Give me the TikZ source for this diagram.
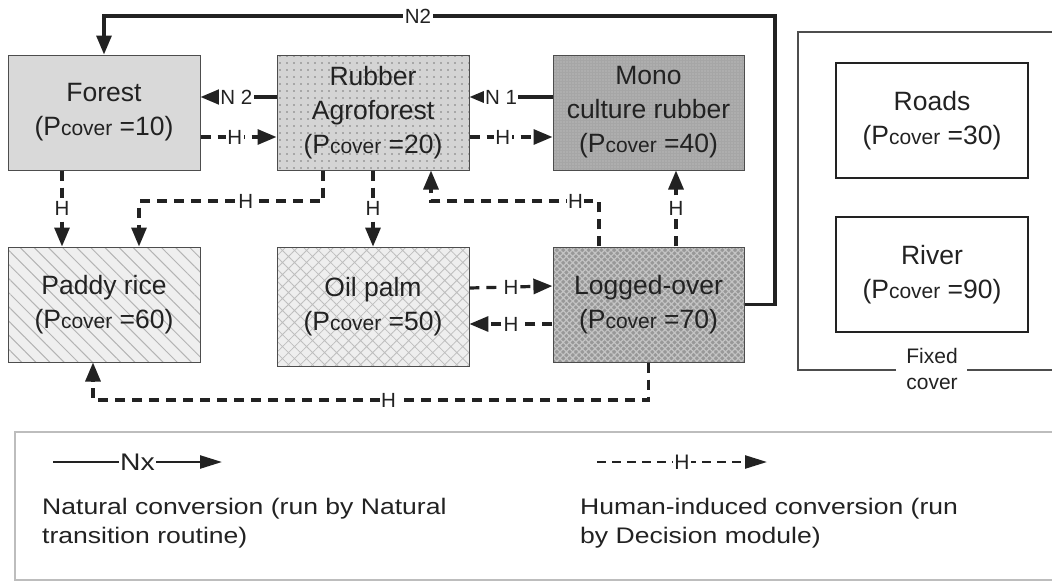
\documentclass[tikz,border=0pt]{standalone}
\usepackage{fontspec}
\setmainfont{Liberation Sans}
\newfontfamily\legendfamily{Liberation Sans}[FakeStretch=1.18]
\usetikzlibrary{arrows.meta,patterns.meta}

\definecolor{ink}{HTML}{222222}
\definecolor{boxline}{HTML}{4D4D4D}
\definecolor{forestbg}{HTML}{D9D9D9}
\definecolor{rubberbg}{HTML}{D4D4D4}
\definecolor{rubberdot}{HTML}{7A7A7A}
\definecolor{monobg}{HTML}{A6A6A6}
\definecolor{monodot}{HTML}{C9C9C9}
\definecolor{paddybg}{HTML}{EFEFEF}
\definecolor{paddyline}{HTML}{B4B4B4}
\definecolor{oilbg}{HTML}{EEEEEE}
\definecolor{oilline}{HTML}{BEBEBE}
\definecolor{loggedbg}{HTML}{989898}
\definecolor{loggedline}{HTML}{C4C4C4}
\definecolor{legendline}{HTML}{BDBDBD}

\newcommand\boxfont{\fontsize{26.5}{34}\selectfont}
\newcommand\labfont{\fontsize{20.5}{22}\selectfont}
\newcommand\legfont{\legendfamily\fontsize{22.5}{29}\selectfont}
\newcommand\pcov[1]{(P{\fontsize{21}{21}\selectfont cover} =#1)}

\begin{document}
\begin{tikzpicture}[x=1pt,y=-1pt,
  >={Triangle[length=19pt,width=15pt]},
  cover/.style={draw=boxline, line width=1pt, minimum width=192pt,
    minimum height=115pt, inner sep=0pt, align=center, font=\boxfont, text=ink},
  fixedbox/.style={draw=ink, line width=1.1pt, fill=white, minimum width=192pt,
    minimum height=115pt, inner sep=0pt, align=center, font=\boxfont, text=ink},
  nline/.style={draw=ink, line width=3.2pt},
  hline/.style={draw=ink, line width=3.2pt, dash pattern=on 10pt off 7pt},
  lab/.style={font=\labfont, text=ink, fill=white, inner sep=1.5pt},
  legtext/.style={font=\legfont, text=ink, anchor=base west, inner sep=0pt}]

\useasboundingbox (0,0) rectangle (1052,581);
\clip (0,0) rectangle (1052,581);
\fill[white] (0,0) rectangle (1052,581);

% land-cover classes
\node[cover, preaction={fill=forestbg}] (forest) at (104,112.5)
  {Forest\\\pcov{10}};
\node[cover, preaction={fill=rubberbg},
  pattern={Dots[distance=7pt,radius=0.9pt]}, pattern color=rubberdot]
  (rubber) at (373,112.5) {Rubber\\Agroforest\\\pcov{20}};
\node[cover, minimum width=191pt, preaction={fill=monobg},
  pattern={Dots[distance=3pt,radius=0.6pt]}, pattern color=monodot]
  (mono) at (648.5,112.5) {Mono\\culture rubber\\\pcov{40}};
\node[cover, preaction={fill=paddybg},
  pattern={Lines[angle=-45,distance=10pt,line width=1pt]}, pattern color=paddyline]
  (paddy) at (104,304.5) {Paddy rice\\\pcov{60}};
\node[cover, minimum height=119pt, preaction={fill=oilbg},
  pattern={Hatch[angle=45,distance=8.5pt,line width=0.8pt]}, pattern color=oilline]
  (oil) at (373,306.5) {Oil palm\\\pcov{50}};
\node[cover, minimum width=191pt, preaction={fill=loggedbg},
  pattern={Hatch[angle=45,distance=4.5pt,line width=1.2pt]}, pattern color=loggedline]
  (logged) at (648.5,304.5) {Logged-over\\\pcov{70}};

% fixed cover group
\draw[draw=boxline, line width=1.1pt] (896,370) -- (798,370) -- (798,32) -- (1060,32);
\draw[draw=boxline, line width=1.1pt] (967,370) -- (1060,370);
\node[fixedbox] (roads) at (932,120.5) {Roads\\\pcov{30}};
\node[fixedbox] (river) at (932,274.5) {River\\\pcov{90}};
\node[font=\fontsize{21}{26}\selectfont, text=ink, anchor=base, inner sep=0pt]
  (fixedA) at (932,363) {Fixed};
\node[font=\fontsize{21}{26}\selectfont, text=ink, anchor=base, inner sep=0pt]
  (fixedB) at (932,389) {cover};

% natural conversions
\coordinate (n2corner) at (775,16);
\draw[nline,->] (logged.east) -| (n2corner) -| (forest.north);
\node[lab] (n2top) at (418,16) {N2};
\draw[nline,->] ([yshift=15.5pt]rubber.west) --
  node[lab,pos=0.53] {N 2} ([yshift=15.5pt]forest.east);
\draw[nline,->] ([yshift=15.5pt]mono.west) --
  node[lab,pos=0.62] {N 1} ([yshift=15.5pt]rubber.east);

% human-induced conversions
\draw[hline,->] ([yshift=-24.5pt]forest.east) --
  node[lab,pos=0.45] {H} ([yshift=-24.5pt]rubber.west);
\draw[hline,->] ([yshift=-24.5pt]rubber.east) --
  node[lab,pos=0.4] {H} ([yshift=-24.5pt]mono.west);
\draw[hline,->] ([xshift=-42pt]forest.south) --
  node[lab] {H} ([xshift=-42pt]paddy.north);
\coordinate (r2p) at (139,201);
\draw[hline,->] ([xshift=-50pt]rubber.south) |-
  node[lab,pos=0.71] {H} (r2p) -- ([xshift=35pt]paddy.north);
\draw[hline,->] (rubber.south) -- node[lab] {H} (oil.north);
\coordinate (l2r) at (431,201);
\draw[hline,->] ([xshift=-49.5pt]logged.north) |-
  node[lab,pos=0.57] {H} (l2r) -- ([xshift=58pt]rubber.south);
\draw[hline,->] ([xshift=27.5pt]logged.north) --
  node[lab] {H} ([xshift=27.5pt]mono.south);
\draw[hline,->] ([yshift=18.5pt]oil.east) --
  node[lab] {H} ([yshift=18.5pt]logged.west);
\draw[hline,->] ([yshift=-19.5pt]logged.west) --
  node[lab] {H} ([yshift=-17.5pt]oil.east);
\coordinate (l2p) at (93,400);
\draw[hline,->] (logged.south) |-
  node[lab,pos=0.734] {H} (l2p) -- ([xshift=-11pt]paddy.south);

% legend
\draw[draw=legendline, line width=1.3pt] (1060,432) -- (15,432) -- (15,580) -- (1060,580);
\coordinate (nxa) at (53,462);
\coordinate (nxb) at (222,462);
\draw[draw=ink, line width=2.4pt, -{Triangle[length=22pt,width=13pt]}] (nxa) --
  node[font=\legendfamily\fontsize{24}{26}\selectfont, text=ink, fill=white, inner sep=1pt] {Nx} (nxb);
\coordinate (hxa) at (597,462);
\coordinate (hxb) at (767,462);
\draw[draw=ink, line width=2.4pt, dash pattern=on 9pt off 6pt,
  -{Triangle[length=22pt,width=13pt]}] (hxa) --
  node[font=\fontsize{21}{24}\selectfont, text=ink, fill=white, inner sep=1pt] {H} (hxb);
\node[legtext] (natA) at (42,514) {Natural conversion (run by Natural};
\node[legtext] (natB) at (42,543) {transition routine)};
\node[legtext] (humA) at (580,514) {Human-induced conversion (run};
\node[legtext] (humB) at (580,543) {by Decision module)};
\end{tikzpicture}
\end{document}
